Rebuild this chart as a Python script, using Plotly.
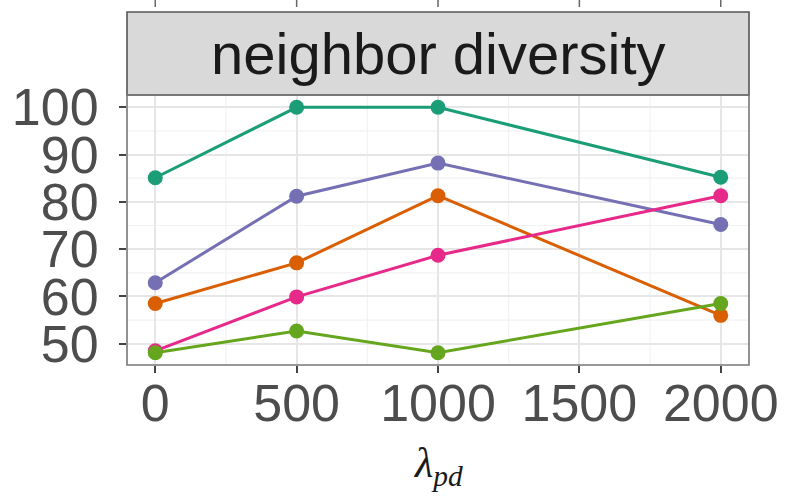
import plotly.graph_objects as go

lambda_pd = [0, 500, 1000, 2000]
series_names = ["s1", "s2", "s3", "s4", "s5"]
series_colors = ["#1B9E77", "#D95F02", "#7570B3", "#E7298A", "#66A61E"]
values_s1 = [85.1, 100.0, 100.0, 85.2]
values_s2 = [58.5, 67.1, 81.3, 56.0]
values_s3 = [62.9, 81.2, 88.2, 75.2]
values_s4 = [48.5, 59.9, 68.7, 81.3]
values_s5 = [48.1, 52.7, 48.1, 58.5]
all_values = [values_s1, values_s2, values_s3, values_s4, values_s5]

x_ticks = [0, 500, 1000, 1500, 2000]
y_ticks = [50, 60, 70, 80, 90, 100]
panel_title = "neighbor diversity"

fig = go.Figure()
for name, col, vals in zip(series_names, series_colors, all_values):
    fig.add_trace(go.Scatter(
        x=lambda_pd, y=vals, mode="lines+markers", name=name,
        line=dict(color=col, width=3),
        marker=dict(color=col, size=15),
        showlegend=False,
    ))

W, H = 788, 496
L, R, T, B = 127, 39, 95, 131
plot_h = H - T - B

grid_major = "#E6E6E6"
grid_minor = "#F2F2F2"

shapes = []
for xv in [250, 750, 1250, 1750]:
    shapes.append(dict(type="line", xref="x", yref="paper", x0=xv, x1=xv, y0=0, y1=1,
                       line=dict(color=grid_minor, width=1.2), layer="below"))
for yv in [55, 65, 75, 85, 95]:
    shapes.append(dict(type="line", xref="paper", yref="y", x0=0, x1=1, y0=yv, y1=yv,
                       line=dict(color=grid_minor, width=1.2), layer="below"))
strip_top = 1 + (T - 12) / plot_h
shapes.append(dict(type="rect", xref="paper", yref="paper", x0=0, x1=1, y0=1, y1=strip_top,
                   fillcolor="#D9D9D9", line=dict(color="#555555", width=1.6)))
shapes.append(dict(type="rect", xref="paper", yref="paper", x0=0, x1=1, y0=0, y1=1,
                   line=dict(color="#777777", width=1.6), fillcolor="rgba(0,0,0,0)", layer="above"))
top_y0 = 1 + (T - 0) / plot_h
top_y1 = 1 + (T - 7) / plot_h
for xv in x_ticks:
    shapes.append(dict(type="line", xref="x", yref="paper", x0=xv, x1=xv, y0=top_y1, y1=top_y0,
                       line=dict(color="#666666", width=1.5)))

fig.update_layout(
    width=W, height=H,
    margin=dict(l=L, r=R, t=T, b=B, autoexpand=False),
    paper_bgcolor="white", plot_bgcolor="white",
    shapes=shapes,
    annotations=[
        dict(text=panel_title, xref="paper", yref="paper", x=0.5,
             y=(1 + strip_top) / 2, showarrow=False,
             font=dict(family="Liberation Sans, Arial", size=58, color="#1A1A1A"),
             xanchor="center", yanchor="middle"),
        dict(text="<i>λ<sub>pd</sub></i>", xref="paper", yref="paper", x=0.5,
             y=-(438 - (H - B)) / plot_h, showarrow=False,
             font=dict(family="Liberation Serif, DejaVu Serif", size=42, color="#1A1A1A"),
             xanchor="center", yanchor="top"),
    ],
    font=dict(family="Liberation Sans, Arial"),
)
fig.update_xaxes(
    range=[-100, 2100], tickvals=x_ticks, ticktext=[str(v) for v in x_ticks],
    showgrid=True, gridcolor=grid_major, gridwidth=1.6, zeroline=False,
    ticks="outside", ticklen=7, tickwidth=1.5, tickcolor="#444444",
    tickfont=dict(size=52, color="#4D4D4D", family="Liberation Sans, Arial"),
    ticklabelstandoff=-14,
    automargin=False, showline=False,
)
fig.update_yaxes(
    range=[45.5, 102.6], tickvals=y_ticks, ticktext=[str(v) for v in y_ticks],
    showgrid=True, gridcolor=grid_major, gridwidth=1.6, zeroline=False,
    ticks="outside", ticklen=7, tickwidth=1.5, tickcolor="#444444",
    tickfont=dict(size=52, color="#4D4D4D", family="Liberation Sans, Arial"),
    ticklabelstandoff=10,
    automargin=False, showline=False,
)

fig.write_html("out.html", config={"displayModeBar": False},
               post_script="document.body.style.margin='0';document.body.style.overflow='hidden';")
